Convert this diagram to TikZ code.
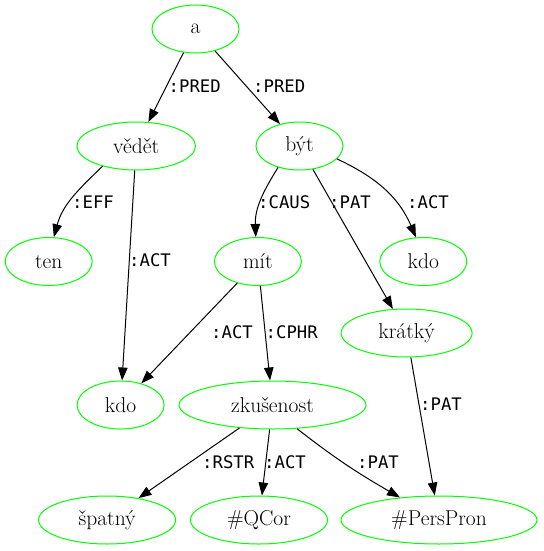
\documentclass[tikz,border=0pt]{standalone}
\usepackage{fontspec}
\newfontfamily\lblfont{DejaVu Sans Mono}
\usetikzlibrary{shapes.geometric,arrows.meta}
\begin{document}
\begin{tikzpicture}[x=1pt,y=-1pt,
  nd/.style={ellipse,draw={rgb,255:red,0;green,255;blue,0},line width=1pt,minimum height=48pt,inner sep=0pt,font=\fontsize{21.5}{25}\selectfont},
  lbl/.style={anchor=base west,inner sep=0pt,font=\lblfont\fontsize{17.3}{20}\selectfont},
  edge/.style={line width=1pt,-{Triangle[length=13pt,width=9.5pt]}}]
\useasboundingbox (0,0) rectangle (543,551);
\node[nd,minimum width=87pt] (a) at (195.5,29) {a};
\node[nd,minimum width=118.5pt] (vedet) at (136.2,146) {vědět};
\node[nd,minimum width=87pt] (byt) at (299.5,146) {být};
\node[nd,minimum width=87pt] (ten) at (48.7,261.5) {ten};
\node[nd,minimum width=87pt] (mit) at (257.9,261.5) {mít};
\node[nd,minimum width=87pt] (kdoR) at (423.3,261.5) {kdo};
\node[nd,minimum width=131pt] (kratky) at (406.6,333) {krátký};
\node[nd,minimum width=87pt] (kdoL) at (120.6,405) {kdo};
\node[nd,minimum width=187pt] (zk) at (272.5,405) {zkušenost};
\node[nd,minimum width=137pt] (spatny) at (107.1,520) {špatný};
\node[nd,minimum width=137pt] (qcor) at (259,520) {\#QCor};
\node[nd,minimum width=196pt] (pp) at (439,520) {\#PersPron};

\draw[edge] (a) -- (vedet);
\draw[edge] (a) -- (byt);
\draw[edge] (vedet.-149) to[out=-136,in=75] (ten.78);
\draw[edge] (vedet) -- (kdoL);
\draw[edge] (byt.-135) to[out=-122,in=92] (mit.95);
\draw[edge] (byt) -- (kratky);
\draw[edge] (byt.-19) to[out=-25,in=113] (kdoR.107);
\draw[edge] (mit) -- (kdoL);
\draw[edge] (mit) -- (zk);
\draw[edge] (kratky) -- (pp);
\draw[edge] (zk) -- (spatny);
\draw[edge] (zk) -- (qcor);
\draw[edge] (zk.-44) to[out=-38,in=150] (pp.150);

\node[lbl] (l1) at (168.5,92.5) {:PRED};
\node[lbl] (l2) at (253,92.5) {:PRED};
\node[lbl] (l3) at (72,208) {:EFF};
\node[lbl] (l4) at (129,266) {:ACT};
\node[lbl] (l5) at (258,208) {:CAUS};
\node[lbl] (l6) at (329,208) {:PAT};
\node[lbl] (l7) at (407,208) {:ACT};
\node[lbl] (l8) at (211,338) {:ACT};
\node[lbl] (l9) at (265.5,338) {:CPHR};
\node[lbl] (l10) at (420,410) {:PAT};
\node[lbl] (l11) at (202,468) {:RSTR};
\node[lbl] (l12) at (264,468) {:ACT};
\node[lbl] (l13) at (357,468) {:PAT};
\end{tikzpicture}
\end{document}
